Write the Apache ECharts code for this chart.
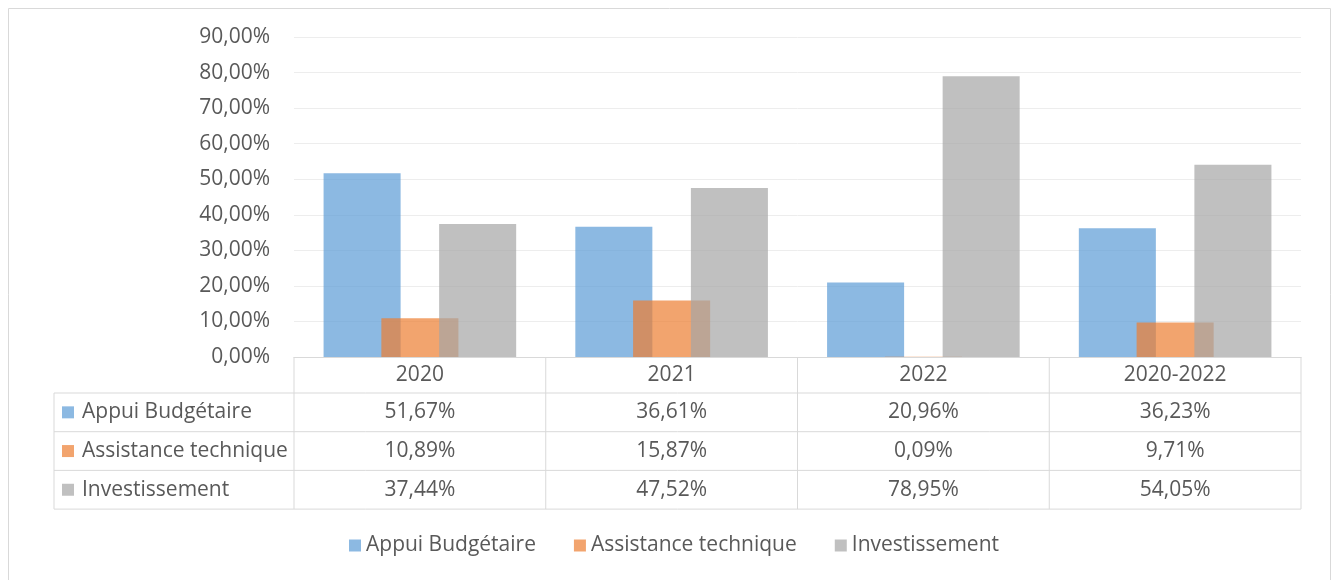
<!DOCTYPE html>
<html>
<head>
<meta charset="utf-8">
<script src="https://cdn.jsdelivr.net/npm/echarts@6/dist/echarts.min.js"></script>
<style>
html,body{margin:0;padding:0;background:#fff;}
#chart{width:1333px;height:580px;}
</style>
</head>
<body>
<div id="chart"></div>
<script>
const categories = ['2020', '2021', '2022', '2020-2022'];
const seriesNames = ['Appui Budgétaire', 'Assistance technique', 'Investissement'];
const appuiBudgetaire = [51.67, 36.61, 20.96, 36.23];
const assistanceTechnique = [10.89, 15.87, 0.09, 9.71];
const investissement = [37.44, 47.52, 78.95, 54.05];
const yTicks = [0, 10, 20, 30, 40, 50, 60, 70, 80, 90];

const seriesValues = [appuiBudgetaire, assistanceTechnique, investissement];
const colors = ['rgba(91,155,213,0.7)', 'rgba(237,125,49,0.7)', 'rgba(165,165,165,0.7)'];
const FONT = 'Open Sans';
const FS = 21;
const TXT = '#595959';
const LINE = '#D9D9D9';
const fmt = v => v.toFixed(2).replace('.', ',') + '%';

const chart = echarts.init(document.getElementById('chart'), null, {renderer: 'canvas'});

const option = {
  animation: false,
  textStyle: {fontFamily: FONT},
  grid: {left: 294, right: 32, top: 37, bottom: 223, containLabel: false},
  legend: {
    bottom: 19,
    left: 344,
    icon: 'rect',
    itemWidth: 12,
    itemHeight: 12,
    itemGap: 38,
    textStyle: {fontFamily: FONT, fontSize: FS, color: TXT},
    data: seriesNames
  },
  xAxis: {
    type: 'category',
    data: categories,
    axisLine: {show: true, lineStyle: {color: LINE, width: 1}},
    axisTick: {show: false},
    axisLabel: {fontFamily: FONT, fontSize: FS, color: TXT, margin: 8},
    splitLine: {show: false}
  },
  yAxis: {
    type: 'value',
    min: yTicks[0],
    max: yTicks[yTicks.length - 1],
    interval: 10,
    axisLine: {show: false},
    axisTick: {show: false},
    axisLabel: {fontFamily: FONT, fontSize: FS, color: TXT, margin: 24, formatter: v => fmt(v)},
    splitLine: {lineStyle: {color: '#EDEDED', width: 1}}
  },
  series: seriesNames.map((name, i) => ({
    name: name,
    type: 'bar',
    data: seriesValues[i],
    barWidth: '30.6%',
    barGap: '-25%',
    itemStyle: {color: colors[i]},
    emphasis: {disabled: true}
  }))
};
chart.setOption(option);

// Build the data table beneath the plot, aligned with the category axis
function buildTable() {
  const c0 = chart.convertToPixel({xAxisIndex: 0}, 0);
  const c1 = chart.convertToPixel({xAxisIndex: 0}, 1);
  const band = c1 - c0;
  const left = c0 - band / 2;
  const right = left + band * categories.length;
  const y0 = chart.convertToPixel({yAxisIndex: 0}, 0);
  const headerBottom = y0 + 36;
  const rowH = 38.7;
  const rowTops = [headerBottom, headerBottom + rowH, headerBottom + 2 * rowH];
  const bottom = headerBottom + 3 * rowH;
  const tableLeft = 54;
  const els = [];
  const line = (x1, y1, x2, y2) => els.push({
    type: 'line', silent: true,
    shape: {x1: x1, y1: y1, x2: x2, y2: y2},
    style: {stroke: LINE, lineWidth: 1}
  });
  line(tableLeft, headerBottom, right, headerBottom);
  line(tableLeft, headerBottom + rowH, right, headerBottom + rowH);
  line(tableLeft, headerBottom + 2 * rowH, right, headerBottom + 2 * rowH);
  line(tableLeft, bottom, right, bottom);
  line(tableLeft, headerBottom, tableLeft, bottom);
  for (let i = 0; i <= categories.length; i++) {
    const x = left + i * band;
    line(x, y0, x, bottom);
  }
  seriesNames.forEach((name, r) => {
    const cy = rowTops[r] + rowH / 2;
    els.push({type: 'rect', silent: true, shape: {x: 62, y: cy - 6, width: 12, height: 12}, style: {fill: colors[r]}});
    els.push({type: 'text', silent: true, style: {text: name, x: 82, y: cy, textVerticalAlign: 'middle', verticalAlign: 'middle', font: FS + 'px "' + FONT + '"', fill: TXT}});
    seriesValues[r].forEach((v, c) => {
      els.push({type: 'text', silent: true, style: {text: fmt(v), x: left + (c + 0.5) * band, y: cy, textAlign: 'center', align: 'center', textVerticalAlign: 'middle', verticalAlign: 'middle', font: FS + 'px "' + FONT + '"', fill: TXT}});
    });
  });
  els.push({type: 'rect', silent: true, shape: {x: 8.5, y: 8.5, width: 1322, height: 620}, style: {fill: 'none', stroke: LINE, lineWidth: 1}});
  chart.setOption({graphic: {elements: els}});
}
buildTable();
</script>
</body>
</html>
